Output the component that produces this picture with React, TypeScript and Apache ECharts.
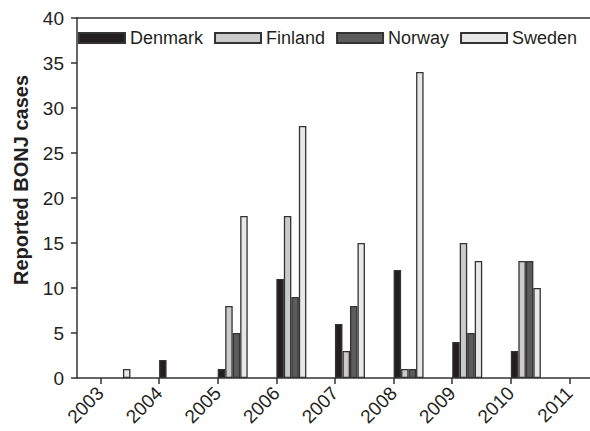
import React, { useEffect, useRef } from "react";
import * as echarts from "echarts";

const years = [2003, 2004, 2005, 2006, 2007, 2008, 2009, 2010, 2011];
const denmark = [0, 2, 1, 11, 6, 12, 4, 3, 0];
const finland = [0, 0, 8, 18, 3, 1, 15, 13, 0];
const norway = [0, 0, 5, 9, 8, 1, 5, 13, 0];
const sweden = [1, 0, 18, 28, 15, 34, 13, 10, 0];
const countryNames = ["Denmark", "Finland", "Norway", "Sweden"];
const yTicks = [0, 5, 10, 15, 20, 25, 30, 35, 40];

const FONT = "'Liberation Sans', Arial, sans-serif";
const INK = "#231f20";
const colors = ["#231f20", "#cbcbcb", "#5c5c5c", "#e8e8e8"];

export default function App() {
  const ref = useRef<HTMLDivElement>(null);
  useEffect(() => {
    if (!ref.current) return;
    const chart = echarts.init(ref.current, undefined, { renderer: "svg" });
    const valueSets = [denmark, finland, norway, sweden];
    const barW = 7.5;
    const placeholders = [0, 1, 2, 3].map((i) => ({
      name: "_pad" + i,
      type: "bar" as const,
      xAxisIndex: 0,
      barWidth: barW,
      barGap: "0%",
      data: [] as any[],
      silent: true,
    }));
    const real = countryNames.map((name, k) => ({
      name,
      type: "bar" as const,
      xAxisIndex: 0,
      barWidth: barW,
      barGap: "0%",
      itemStyle: { color: colors[k], borderColor: "#333333", borderWidth: 1.3 },
      data: years.map((y, i) => [y, valueSets[k][i] === 0 ? null : valueSets[k][i]]),
    }));
    const xMin = 2002.6;
    const xMax = 2011.35;
    chart.setOption({
      animation: false,
      textStyle: { fontFamily: FONT },
      grid: { left: 77, right: 0, top: 18, bottom: 53, containLabel: false },
      legend: {
        data: countryNames,
        left: 73,
        top: 24,
        icon: "rect",
        itemWidth: 46,
        itemHeight: 10,
        itemGap: 11,
        textStyle: { fontSize: 18, color: INK, fontFamily: FONT },
      },
      xAxis: [
        {
          type: "value",
          min: xMin,
          max: xMax,
          splitLine: { show: false },
          axisLine: { show: true, onZero: false, lineStyle: { color: "#333", width: 1.5 } },
          axisTick: {
            show: true,
            customValues: years,
            length: 6,
            lineStyle: { color: "#333", width: 1.5 },
          },
          axisLabel: {
            customValues: years,
            rotate: 45,
            margin: 12,
            fontSize: 19,
            color: INK,
            fontFamily: FONT,
            formatter: (v: number) => String(v),
          },
        },
        {
          type: "value",
          position: "top",
          min: xMin,
          max: xMax,
          splitLine: { show: false },
          axisLine: { show: true, onZero: false, lineStyle: { color: "#333", width: 1.5 } },
          axisTick: { show: false },
          axisLabel: { show: false },
        },
      ],
      yAxis: {
        type: "value",
        min: 0,
        max: 40,
        interval: 5,
        splitLine: { show: false },
        axisLine: { show: true, lineStyle: { color: "#333", width: 1.5 } },
        axisTick: { show: true, length: 6, lineStyle: { color: "#333", width: 1.5 } },
        axisLabel: {
          margin: 13,
          fontSize: 19,
          color: INK,
          fontFamily: FONT,
          customValues: yTicks,
        },
      },
      graphic: [
        {
          type: "text",
          x: 21,
          y: 180,
          rotation: Math.PI / 2,
          style: {
            text: "Reported BONJ cases",
            fontSize: 20,
            fontWeight: "bold",
            fontFamily: FONT,
            fill: INK,
            align: "center",
            verticalAlign: "middle",
          },
        },
      ],
      series: [...placeholders, ...real],
    });
    return () => chart.dispose();
  }, []);
  return <div ref={ref} style={{ width: 590, height: 431, position: "absolute", left: 0, top: 0 }} />;
}
